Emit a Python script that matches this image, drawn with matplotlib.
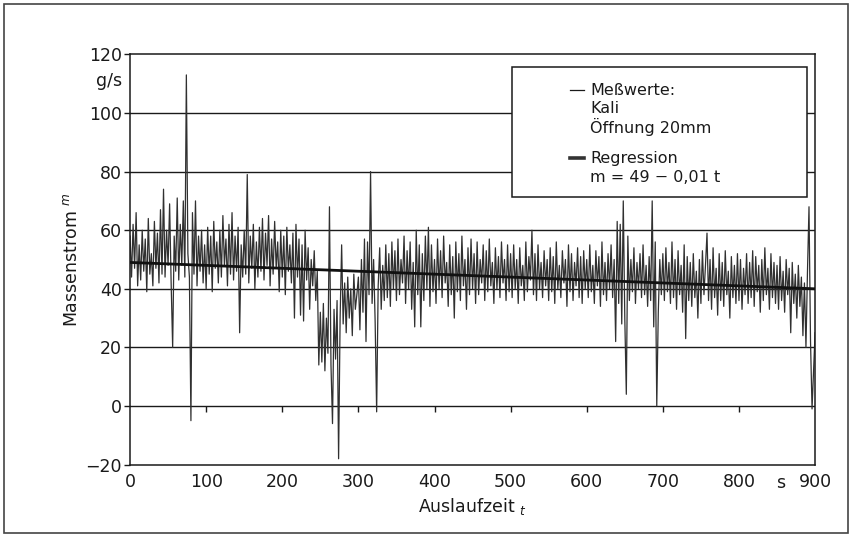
import numpy as np
import matplotlib
matplotlib.use("Agg")
import matplotlib.pyplot as plt
from matplotlib.patches import Rectangle
from matplotlib.lines import Line2D

plt.rcParams['font.family'] = ['DejaVu Sans']

# Mass flow readings, one sample every 2 s (0 ... 900 s)
sample_interval = 2.0
mass_flow = [
    # 0 - 48 s
    58, 44, 62, 47, 66, 41, 55, 43, 60, 46, 57, 39, 64, 45, 52, 41, 63, 47, 59, 42, 67, 45, 74, 44, 60,
    # 50 - 98 s
    48, 69, 42, 20, 58, 46, 71, 43, 62, 48, 70, 44, 113, 52, 44, -5, 66, 45, 70, 41, 58, 46, 60, 42, 55,
    # 100 - 148 s
    40, 61, 45, 58, 39, 63, 47, 56, 42, 60, 44, 65, 48, 57, 41, 62, 45, 66, 43, 58, 46, 61, 25, 55, 44,
    # 150 - 198 s
    60, 45, 79, 42, 58, 47, 62, 40, 56, 44, 61, 46, 64, 43, 59, 48, 65, 41, 57, 45, 63, 47, 56, 39, 60,
    # 200 - 248 s
    44, 58, 38, 61, 46, 55, 42, 59, 30, 62, 44, 57, 31, 55, 29, 60, 43, 54, 33, 50, 41, 53, 36, 46, 14,
    # 250 - 298 s
    32, 15, 35, 12, 30, 18, 68, 14, -6, 33, 16, 36, -18, 30, 55, 28, 42, 25, 44, 30, 40, 24, 45, 33, 38,
    # 300 - 348 s
    44, 26, 50, 32, 57, 22, 56, 38, 80, 35, 50, 29, -2, 41, 54, 33, 48, 36, 55, 37, 52, 34, 56, 40, 53,
    # 350 - 398 s
    36, 57, 38, 50, 42, 58, 35, 53, 40, 56, 33, 49, 27, 60, 38, 55, 27, 52, 36, 58, 40, 61, 34, 55, 39,
    # 400 - 448 s
    50, 35, 57, 40, 53, 37, 58, 42, 49, 34, 55, 38, 51, 30, 56, 39, 52, 36, 58, 41, 50, 33, 54, 38, 57,
    # 450 - 498 s
    40, 52, 35, 56, 38, 50, 42, 55, 36, 53, 39, 57, 41, 49, 35, 54, 40, 51, 37, 56, 42, 50, 36, 55, 39,
    # 500 - 548 s
    52, 37, 55, 40, 50, 35, 54, 41, 48, 36, 56, 39, 51, 43, 60, 38, 52, 36, 55, 40, 49, 37, 53, 41, 50,
    # 550 - 598 s
    36, 54, 39, 51, 35, 56, 40, 48, 37, 53, 42, 50, 34, 55, 39, 52, 36, 49, 41, 54, 37, 51, 35, 53, 40,
    # 600 - 648 s
    50, 37, 55, 39, 48, 35, 53, 41, 51, 34, 56, 38, 49, 36, 52, 40, 55, 37, 50, 22, 63, 35, 62, 28, 70,
    # 650 - 698 s
    30, 4, 58, 36, 50, 39, 54, 35, 49, 40, 52, 37, 55, 38, 48, 34, 51, 36, 70, 27, 56, 0, 32, 50, 38,
    # 700 - 748 s
    52, 36, 54, 39, 49, 35, 56, 37, 50, 33, 53, 38, 48, 32, 55, 23, 51, 36, 49, 34, 52, 37, 46, 30, 50,
    # 750 - 798 s
    35, 53, 38, 48, 59, 36, 50, 33, 54, 37, 47, 31, 52, 36, 49, 34, 53, 38, 46, 30, 51, 37, 48, 35, 52,
    # 800 - 848 s
    36, 50, 33, 47, 38, 52, 35, 49, 37, 53, 34, 51, 39, 48, 32, 50, 36, 54, 38, 47, 33, 52, 37, 49, 35,
    # 850 - 898 s
    48, 33, 51, 36, 46, 32, 50, 38, 47, 25, 49, 35, 45, 30, 48, 34, 44, 24, 42, 20, 46, 68, 22, -1, 12,
    # 900 s
    25,
]
time_s = np.arange(len(mass_flow)) * sample_interval

# Linear regression m = 49 - 0,01 t
reg_intercept = 49.0
reg_slope = -0.01
reg_t = np.array([0.0, 900.0])
reg_m = reg_intercept + reg_slope * reg_t

x_ticks = [0, 100, 200, 300, 400, 500, 600, 700, 800, 900]
x_tick_labels = ["0", "100", "200", "300", "400", "500", "600", "700", "800", "900"]
y_ticks = [-20, 0, 20, 40, 60, 80, 100, 120]
grid_levels = [0, 20, 40, 60, 80, 100]

fig = plt.figure(figsize=(8.51, 5.36), dpi=100)
ax = fig.add_axes([0.1528, 0.1332, 0.805, 0.7653])

ink = "#1a1a1a"

# horizontal grid
for g in grid_levels:
    ax.axhline(g, color=ink, lw=1.0, zorder=1)

ax.plot(time_s, mass_flow, color="#303030", lw=0.9, zorder=2)
ax.plot(reg_t, reg_m, color="#111111", lw=2.0, zorder=3)

ax.set_xlim(0, 900)
ax.set_ylim(-20, 120)

for s in ax.spines.values():
    s.set_color(ink)
    s.set_linewidth(1.1)

ax.set_yticks(y_ticks)
ax.tick_params(axis="y", direction="out", length=4, width=1, colors=ink,
               labelsize=12.5, pad=2)
ax.set_xticks(x_ticks)
ax.set_xticklabels(x_tick_labels)
ax.tick_params(axis="x", length=0, labelsize=12.5, pad=6, colors=ink)

# x tick marks sit on the zero line
ax.plot(x_ticks[1:-1], [0] * (len(x_ticks) - 2), linestyle="none",
        marker=3, markersize=4, color=ink, markeredgewidth=1, zorder=2)

# unit labels
ax.text(-0.012, 111, "g/s", transform=ax.get_yaxis_transform(),
        ha="right", va="center", fontsize=12.5, color=ink)
ax.text(855, -0.022, "s", transform=ax.get_xaxis_transform(),
        ha="center", va="top", fontsize=12.5, color=ink)

ax.set_xlabel("Auslaufzeit $_{t}$", fontsize=12.5, color=ink, labelpad=4)
ax.set_ylabel("Massenstrom $^{m}$", fontsize=12.5, color=ink, labelpad=3)

# legend box
box = Rectangle((0.557, 0.652), 0.431, 0.317, transform=ax.transAxes,
                facecolor="white", edgecolor=ink, lw=1.1, zorder=5)
ax.add_patch(box)
ax.add_line(Line2D([0.642, 0.663], [0.913, 0.913], transform=ax.transAxes,
                   color=ink, lw=0.9, zorder=6))
ax.add_line(Line2D([0.642, 0.663], [0.747, 0.747], transform=ax.transAxes,
                   color="#333333", lw=2.6, zorder=6))
legend_lines = [
    (0.913, "Meßwerte:"),
    (0.869, "Kali"),
    (0.823, "Öffnung 20mm"),
    (0.747, "Regression"),
    (0.701, "m = 49 − 0,01 t"),
]
for yy, txt in legend_lines:
    ax.text(0.672, yy, txt, transform=ax.transAxes, ha="left", va="center",
            fontsize=11.5, color=ink, zorder=6)

# outer frame
fig.patches.append(Rectangle((0.005, 0.006), 0.992, 0.986, transform=fig.transFigure,
                             fill=False, edgecolor="#444444", lw=1.2))

fig.savefig("out.png", dpi=100)
